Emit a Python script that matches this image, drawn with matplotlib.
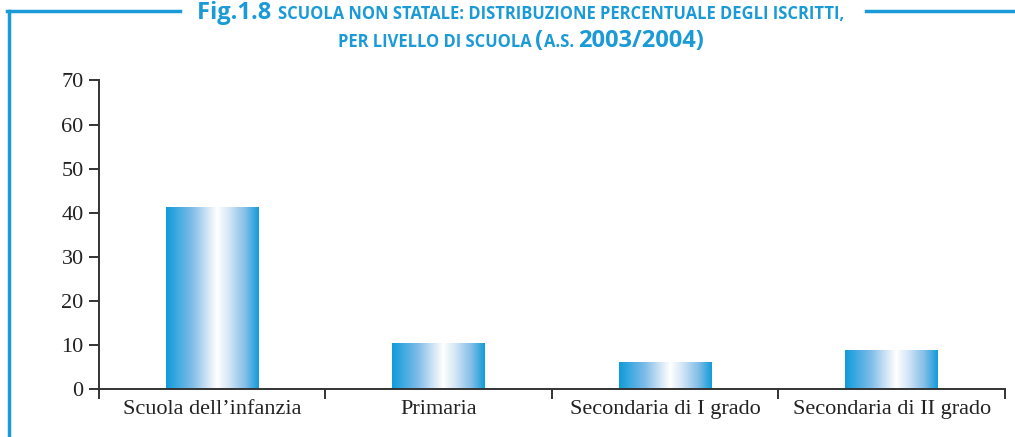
import numpy as np
import matplotlib
matplotlib.use("Agg")
import matplotlib.pyplot as plt
from matplotlib.colors import LinearSegmentedColormap
from matplotlib.lines import Line2D
from matplotlib.offsetbox import TextArea, HPacker, VPacker, AnchoredOffsetbox

# dati
livelli = ["Scuola dell\u2019infanzia", "Primaria", "Secondaria di I grado", "Secondaria di II grado"]
percentuali = [41.2, 10.4, 6.1, 8.9]
yticks = [0, 10, 20, 30, 40, 50, 60, 70]

blu = "#1a9ad6"
grigio = "#333333"
serif = ["Liberation Serif", "DejaVu Serif"]
narrow = ["Liberation Sans Narrow", "Open Sans", "DejaVu Sans"]

fig = plt.figure(figsize=(10.15, 4.37), dpi=100)
ax = fig.add_axes([0.0975, 0.1098, 0.8925, 0.706])

x = np.arange(len(livelli))
bars = ax.bar(x, percentuali, width=0.41, color="none", edgecolor="none")

# gradiente orizzontale dentro le barre
cmap = LinearSegmentedColormap.from_list("grad", [
    (0.0, "#0f9bda"), (0.28, "#7fbce8"), (0.45, "#d4e6f6"),
    (0.55, "#ffffff"), (0.68, "#d4e6f6"), (0.85, "#86bfe8"), (1.0, "#139cda")])
grad = np.linspace(0, 1, 256).reshape(1, -1)
for b in bars:
    x0, y0 = b.get_x(), b.get_y()
    im = ax.imshow(grad, cmap=cmap, aspect="auto",
                   extent=(x0, x0 + b.get_width(), y0, y0 + b.get_height()),
                   zorder=2)
    im.set_clip_path(b)

ax.set_xlim(-0.5, len(livelli) - 0.5)
ax.set_ylim(0, 70)

# assi
for s in ["top", "right"]:
    ax.spines[s].set_visible(False)
for s in ["left", "bottom"]:
    ax.spines[s].set_color(grigio)
    ax.spines[s].set_linewidth(1.4)

ax.set_yticks(yticks)
ax.set_yticklabels([str(v) for v in yticks], family=serif, fontsize=16, color="#222222")
ax.tick_params(axis="y", direction="out", length=7, width=1.4, color=grigio, pad=4)

ax.set_xticks(np.arange(len(livelli) + 1) - 0.5)
ax.set_xticklabels([])
ax.tick_params(axis="x", which="major", direction="out", length=7, width=1.4, color=grigio)
ax.set_xticks(x, minor=True)
ax.set_xticklabels(livelli, minor=True, family=serif, fontsize=16, color="#222222")
ax.tick_params(axis="x", which="minor", length=0, pad=8)

# cornice blu
fig.add_artist(Line2D([0.0085, 0.0085], [0.0, 0.975], transform=fig.transFigure,
                      color=blu, lw=2.5))
fig.add_artist(Line2D([0.0073, 0.177], [0.975, 0.975], transform=fig.transFigure,
                      color=blu, lw=2.5))
fig.add_artist(Line2D([0.853, 1.0], [0.975, 0.975], transform=fig.transFigure,
                      color=blu, lw=2.5))

# titolo
big = dict(size=17, weight="bold", color=blu, family=narrow)
small = dict(size=11.9, weight="bold", color=blu, family=narrow)
riga1 = HPacker(children=[
    TextArea("Fig.1.8 ", textprops=big),
    TextArea("SCUOLA NON STATALE: DISTRIBUZIONE PERCENTUALE DEGLI ISCRITTI,", textprops=small)],
    align="baseline", pad=0, sep=0)
riga2 = HPacker(children=[
    TextArea("PER LIVELLO DI SCUOLA ", textprops=small),
    TextArea("(", textprops=big),
    TextArea("A.S. ", textprops=small),
    TextArea("2003/2004)", textprops=big)],
    align="baseline", pad=0, sep=0)
titolo = VPacker(children=[riga1, riga2], align="center", pad=0, sep=3)
box = AnchoredOffsetbox(loc="upper center", child=titolo, frameon=False,
                        bbox_to_anchor=(0.513, 0.997), bbox_transform=fig.transFigure,
                        borderpad=0, pad=0)
fig.add_artist(box)

fig.savefig("out.png", dpi=100)
